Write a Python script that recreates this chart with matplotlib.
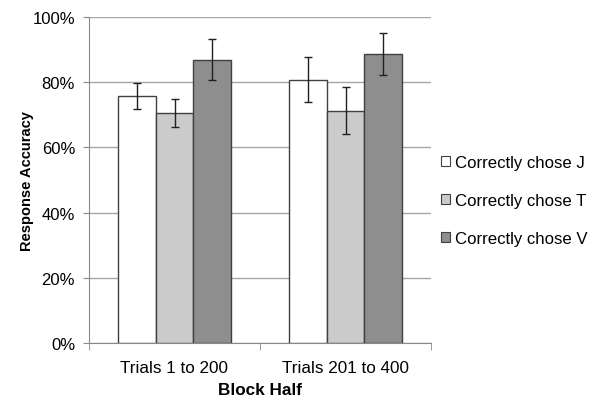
import matplotlib
matplotlib.use("Agg")
import matplotlib.pyplot as plt
import numpy as np
from matplotlib.ticker import FuncFormatter, FixedLocator

plt.rcParams['font.family'] = ['Liberation Sans', 'DejaVu Sans']

categories = ["Trials 1 to 200", "Trials 201 to 400"]
series = ["Correctly chose J", "Correctly chose T", "Correctly chose V"]
values_J = [75.9, 80.8]
values_T = [70.5, 71.3]
values_V = [86.9, 88.7]
err_J = [4.0, 7.0]
err_T = [4.2, 7.1]
err_V = [6.3, 6.5]
yticks = [0, 20, 40, 60, 80, 100]

colors = ["#ffffff", "#cbcbcb", "#8e8e8e"]

fig = plt.figure(figsize=(5.97, 4.02), dpi=100)
ax = fig.add_axes([89/597, 1-344/402, (431-89)/597, (344-18)/402])

x = np.arange(len(categories))
w = 0.2222
vals = [values_J, values_T, values_V]
errs = [err_J, err_T, err_V]
for i, (v, e, c, s) in enumerate(zip(vals, errs, colors, series)):
    ax.bar(x + (i - 1) * w, v, width=w, color=c, edgecolor="#404040", linewidth=1.0,
           label=s, zorder=3)
    ax.errorbar(x + (i - 1) * w, v, yerr=e, fmt='none', ecolor="#202020",
                elinewidth=1.0, capsize=3, capthick=1.0, zorder=4)

ax.set_xlim(-0.5, 1.5)
ax.set_ylim(0, 100)
ax.set_yticks(yticks)
ax.yaxis.set_major_formatter(FuncFormatter(lambda v, p: f"{int(v)}%"))
ax.yaxis.grid(True, color="#a6a6a6", linewidth=1.0, zorder=0)
ax.set_axisbelow(True)

ax.set_xticks(x)
ax.set_xticklabels(categories)
ax.xaxis.set_minor_locator(FixedLocator([-0.5, 0.5, 1.5]))
ax.tick_params(axis='x', which='major', length=0, labelsize=12.3, pad=12)
ax.tick_params(axis='x', which='minor', length=5, color="#888888", direction='out')
ax.tick_params(axis='y', length=4, color="#888888", labelsize=12, pad=6)

for sp in ['top', 'right']:
    ax.spines[sp].set_visible(False)
ax.spines['left'].set_color("#888888")
ax.spines['bottom'].set_color("#888888")

ax.set_xlabel("Block Half", fontsize=12.3, fontweight='bold', labelpad=5)
ax.set_ylabel("Response Accuracy", fontsize=10.5, fontweight='bold')
ax.yaxis.set_label_coords((34 - 89) / 342, 0.5)

leg = fig.legend(loc='upper left', bbox_to_anchor=(434/597, 1-149/402), frameon=False,
                 fontsize=12.1, handlelength=0.55, handleheight=0.55, handletextpad=0.3,
                 labelspacing=1.38, borderaxespad=0)
for h in leg.legend_handles:
    h.set_edgecolor("#404040")
    h.set_linewidth(0.8)

fig.savefig("out.png", dpi=100)
